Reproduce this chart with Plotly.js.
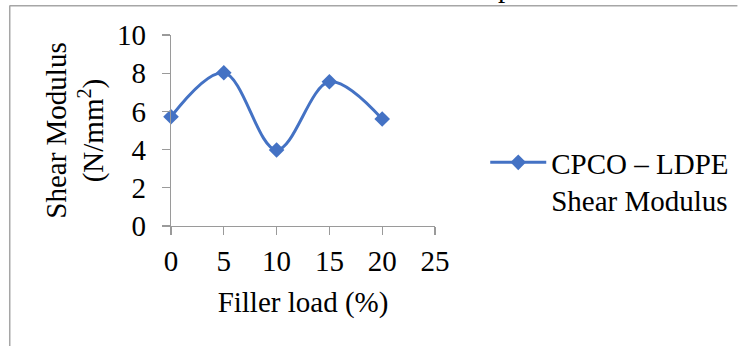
<!DOCTYPE html>
<html>
<head>
<meta charset="utf-8">
<script src="https://cdn.plot.ly/plotly-3.0.1.min.js"></script>
<style>html,body{margin:0;padding:0;background:#fff;}#chart{width:746px;height:346px;}</style>
</head>
<body>
<div id="chart"></div>
<script>
const fillerLoad = [0, 5, 10, 15, 20];
const shearModulus = [5.72, 8.02, 3.98, 7.55, 5.6];
const seriesName = "CPCO – LDPE<br>Shear Modulus";
const xTicks = [0, 5, 10, 15, 20, 25];
const yTicks = [0, 2, 4, 6, 8, 10];

const W = 746, H = 346;
const L = 171, R = 439, T = 35, B = 226;
const pw = R - L, ph = B - T;
const px = x => (x - L) / pw;
const py = y => (B - y) / ph;
const font = "Liberation Serif";
const fs = 29;

const trace = {
  x: fillerLoad, y: shearModulus, name: seriesName,
  type: "scatter", mode: "lines+markers",
  line: {color: "#4472C4", width: 3, shape: "spline", smoothing: 1},
  marker: {symbol: "diamond", size: 12, color: "#4472C4"},
  cliponaxis: false
};

const axisCommon = {
  showgrid: false, zeroline: false, showline: true,
  linecolor: "#9a9a9a", linewidth: 1.3,
  ticks: "outside", ticklen: 8, tickwidth: 1.3, tickcolor: "#9a9a9a",
  tickfont: {family: font, size: fs, color: "#000"}
};

const layout = {
  width: W, height: H,
  margin: {l: L, r: W - R, t: T, b: H - B},
  paper_bgcolor: "#fff", plot_bgcolor: "#fff",
  font: {family: font, color: "#000"},
  showlegend: true,
  xaxis: Object.assign({}, axisCommon, {
    range: [0, 25], tickvals: xTicks, ticktext: xTicks.map(String),
    ticklabelstandoff: 1,
    title: {text: "Filler load (%)", font: {family: font, size: fs}, standoff: 15}
  }),
  yaxis: Object.assign({}, axisCommon, {
    range: [0, 10], tickvals: yTicks, ticktext: yTicks.map(String),
    ticklabelstandoff: 10,
    title: {text: "Shear Modulus<br>(N/mm<sup>2</sup>)", font: {family: font, size: fs}, standoff: 4}
  }),
  legend: {
    x: px(490), y: py(137), xanchor: "left", yanchor: "top",
    valign: "top", itemwidth: 56,
    font: {family: font, size: fs, color: "#000"},
    bgcolor: "rgba(0,0,0,0)"
  },
  shapes: [
    {type: "line", xref: "paper", yref: "paper", x0: px(7), x1: px(746), y0: py(5.7), y1: py(5.7), line: {color: "#a6a6a6", width: 1.5}},
    {type: "line", xref: "paper", yref: "paper", x0: px(7.3), x1: px(7.3), y0: py(5.7), y1: py(346), line: {color: "#a6a6a6", width: 1.5}}
  ],
  annotations: [
    {text: "p", xref: "paper", yref: "paper", x: px(511), y: py(-13.5), xanchor: "center", yanchor: "middle", showarrow: false, font: {family: font, size: fs, color: "#000"}}
  ]
};

Plotly.newPlot("chart", [trace], layout, {displayModeBar: false, staticPlot: true});
</script>
</body>
</html>
